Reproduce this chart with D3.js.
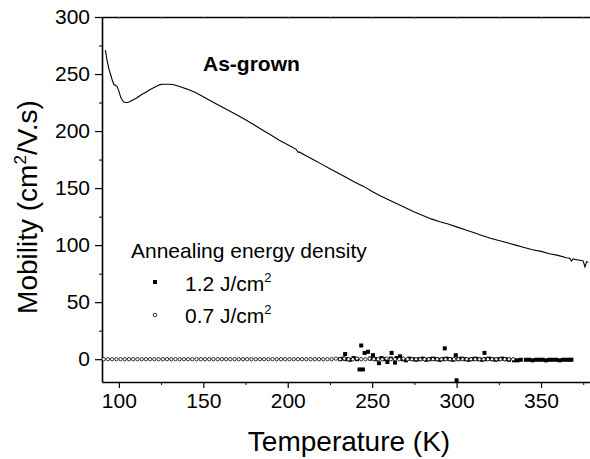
<!DOCTYPE html>
<html>
<head>
<meta charset="utf-8">
<script src="https://cdn.jsdelivr.net/npm/d3@7"></script>
<style>
  body { margin: 0; background: #fff; }
  svg { display: block; font-family: "Liberation Sans", Arial, sans-serif; }
</style>
</head>
<body>
<svg id="chart" width="590" height="459"></svg>
<script>
// ---------- data ----------
const xMajorTicks = [100, 150, 200, 250, 300, 350];
const xMinorTicks = [125, 175, 225, 275, 325, 375];
const yMajorTicks = [0, 50, 100, 150, 200, 250, 300];
const yMinorTicks = [25, 75, 125, 175, 225, 275];

// As-grown curve
const asGrownT = [92, 93, 94, 95, 96, 97, 98, 99, 100, 101, 102, 103, 104, 105, 106, 108, 110, 112, 114, 116,
  118, 120, 122, 124, 126, 128, 130, 132, 134, 136, 138, 140, 145, 150, 155, 160, 165, 170, 175, 180,
  185, 190, 195, 200, 205, 206, 207, 210, 215, 220, 225, 230, 235, 240, 245, 250, 255, 260, 265, 270,
  275, 280, 285, 290, 295, 300, 305, 310, 315, 320, 325, 330, 335, 340, 345, 350, 355, 360, 365, 367,
  368, 369, 370, 372, 374, 375, 376, 377, 378];
const asGrownMu = [271, 262, 255, 250, 245, 241, 240, 239, 235, 230, 227, 225.5, 225, 225, 225.5, 227, 228.5, 230.5, 232.5, 234,
  236, 237.5, 239, 240.5, 241, 241, 241, 240.8, 240, 239, 238, 237, 234, 230, 226, 222, 218, 214, 210, 205.5,
  201, 196.5, 192, 188, 184, 181.5, 181.5, 179, 175, 171, 167, 163, 159, 155, 151.5, 147, 143, 139.5, 136, 132.5,
  129, 126, 123, 120.5, 118.5, 116, 113.5, 111, 108.5, 106, 104, 102, 100, 98, 96, 94.5, 92.5, 91, 89, 88.5,
  86, 88, 87.5, 87, 86.5, 86, 81, 85.5, 85];

// 1.2 J/cm2 (filled squares)
const s12T = [231, 233, 234, 235, 237, 239, 241, 242.5, 243.5, 244.5, 245.5, 247.5, 249, 250.5, 252, 254, 255.5, 257,
  259, 261, 261.5, 263.5, 264.5, 266.5, 268, 270, 272, 274, 276, 278, 280, 282, 284, 286, 288, 290,
  292, 293, 294, 296, 298, 299.5, 300, 301, 303, 305, 307, 309, 311, 313, 315, 316.5, 317, 319,
  321, 323, 325, 327, 329, 331, 334, 336, 338, 341, 343, 345, 347, 349, 351, 353, 355, 357,
  359, 361, 363, 365, 367, 368];
const s12Mu = [0, 0.5, 4.5, 0, -0.5, 1, 0, -9, 12, -9, 5.5, 6.5, 0.5, 3.5, 0, -3.5, 1, 0,
  -2.5, 0.5, 5.5, -3, 1, 2.5, 0, -1, 0.5, 0, -0.5, 0, 0.5, -0.5, 0, 0.5, 0, -0.5,
  0, 9.5, 0.5, 0, -0.5, 3.5, -18.5, 0, 0.5, 0, -0.5, 0, 0.5, 0, -0.5, 5.5, 0, 0.5,
  0, -0.5, 0, 0.5, 0, -0.5, -1, -1, -0.5, -0.5, -0.5, -1, -0.5, -0.5, -0.5, -1, -0.5, -0.5,
  -0.5, -1, -0.5, -0.5, -0.5, -0.5];

// 0.7 J/cm2 (open circles)
const s07T = [91, 93.5, 96, 98.5, 101, 103.5, 106, 108.5, 111, 113.5, 116, 118.5, 121, 123.5, 126, 128.5, 131, 133.5,
  136, 138.5, 141, 143.5, 146, 148.5, 151, 153.5, 156, 158.5, 161, 163.5, 166, 168.5, 171, 173.5,
  176, 178.5, 181, 183.5, 186, 188.5, 191, 193.5, 196, 198.5, 201, 203.5, 206, 208.5, 211, 213.5,
  216, 218.5, 221, 223.5, 226, 228.5, 231, 233.5, 236, 238.5, 241, 243.5, 246, 248.5, 251, 253.5,
  256, 258.5, 261, 263.5, 266, 268.5, 271, 273.5, 276, 278.5, 281, 283.5, 286, 288.5, 291, 293.5,
  296, 298.5, 301, 303.5, 306, 308.5, 311, 313.5, 316, 318.5, 321, 323.5, 326, 328.5, 331, 333.5];
const s07Mu = [0, 0, 0, 0, 0, 0, 0, 0, 0, 0, 0, 0, 0, 0, 0, 0, 0, 0,
  0, 0, 0, 0, 0, 0, 0, 0, 0, 0, 0, 0, 0, 0, 0, 0,
  0, 0, 0, 0, 0, 0, 0, 0, 0, 0, 0, 0, 0, 0, 0, 0,
  0, 0, 0, 0, 0, 0.5, 0, 0.5, 0, 0, 0.5, 0, 0, 0.5, 0, 0,
  0, 0.5, 0, 0, 0, 0.5, 0, 0, 0, 0, 0, 0, 0, 0, 0, 0,
  0, 0, 0, 0, 0, 0, 0, 0, 0, 0, 0, 0, 0, 0, 0, 0];

// ---------- layout ----------
const svg = d3.select("#chart");
const plotLeft = 102, plotRight = 590, plotTop = 17, plotBottom = 382;

const x = d3.scaleLinear().domain([90, 379]).range([plotLeft, plotRight]);
const y = d3.scaleLinear().domain([-20, 300]).range([plotBottom, plotTop]);

// Bottom axis: minor ticks
svg.append("g").attr("transform", `translate(0,${plotBottom})`)
  .call(d3.axisBottom(x).tickValues(xMinorTicks).tickSize(3).tickFormat(""))
  .call(g => g.select(".domain").remove());
// Bottom axis: major ticks
svg.append("g").attr("transform", `translate(0,${plotBottom})`)
  .call(d3.axisBottom(x).tickValues(xMajorTicks).tickSize(6).tickSizeOuter(0).tickPadding(5).tickFormat(d3.format("d")))
  .call(g => g.select(".domain").attr("stroke-width", 1.6))
  .call(g => g.selectAll(".tick line").attr("stroke-width", 1.2))
  .call(g => g.selectAll("text").attr("font-size", 21).attr("fill", "#000"));

// Top axis (no labels, small inward ticks)
svg.append("g").attr("transform", `translate(0,${plotTop})`)
  .call(d3.axisTop(x).tickValues(xMajorTicks.concat(xMinorTicks)).tickSize(-2).tickSizeOuter(0).tickFormat(""))
  .call(g => g.select(".domain").attr("stroke-width", 1.6))
  .call(g => g.selectAll(".tick line").attr("stroke", "#777"));

// Left axis: minor ticks
svg.append("g").attr("transform", `translate(${plotLeft},0)`)
  .call(d3.axisLeft(y).tickValues(yMinorTicks).tickSize(3).tickFormat(""))
  .call(g => g.select(".domain").remove());
// Left axis: major ticks
svg.append("g").attr("transform", `translate(${plotLeft},0)`)
  .call(d3.axisLeft(y).tickValues(yMajorTicks).tickSize(7).tickSizeOuter(0).tickPadding(5).tickFormat(d3.format("d")))
  .call(g => g.select(".domain").attr("stroke-width", 1.6))
  .call(g => g.selectAll(".tick line").attr("stroke-width", 1.2))
  .call(g => g.selectAll("text").attr("font-size", 21).attr("fill", "#000"));

// ---------- marks ----------
const line = d3.line().x((d, i) => x(asGrownT[i])).y(d => y(d));
svg.append("path").datum(asGrownMu)
  .attr("d", line).attr("fill", "none").attr("stroke", "#000").attr("stroke-width", 1.1);

// squares
const sq = 4;
svg.append("g").selectAll("rect").data(s12Mu).join("rect")
  .attr("x", (d, i) => x(s12T[i]) - sq / 2)
  .attr("y", d => y(d) - sq / 2)
  .attr("width", sq).attr("height", sq)
  .attr("fill", "#000");

// circles
svg.append("g").selectAll("circle").data(s07Mu).join("circle")
  .attr("cx", (d, i) => x(s07T[i]))
  .attr("cy", d => y(d))
  .attr("r", 1.7)
  .attr("fill", "#fff").attr("stroke", "#000").attr("stroke-width", 0.8);

// ---------- texts ----------
svg.append("text").attr("x", 203).attr("y", 71)
  .attr("font-size", 21).attr("font-weight", "bold").text("As-grown");

svg.append("text").attr("x", (plotLeft + plotRight) / 2 + 3).attr("y", 451)
  .attr("text-anchor", "middle").attr("font-size", 28).text("Temperature (K)");

const yt = svg.append("text").attr("transform", "translate(37,207) rotate(-90)")
  .attr("text-anchor", "middle").attr("font-size", 28);
yt.append("tspan").text("Mobility (cm");
yt.append("tspan").attr("font-size", 17).attr("dy", -11).text("2");
yt.append("tspan").attr("dy", 11).text("/V.s)");

// legend
svg.append("text").attr("x", 131).attr("y", 258).attr("font-size", 21).text("Annealing energy density");
const legendRows = [
  { label: "1.2 J/cm", yy: 291, type: "square" },
  { label: "0.7 J/cm", yy: 323, type: "circle" }
];
legendRows.forEach(r => {
  if (r.type === "square") {
    svg.append("rect").attr("x", 155 - 2).attr("y", r.yy - 9 - 2).attr("width", 4).attr("height", 4).attr("fill", "#000");
  } else {
    svg.append("circle").attr("cx", 155).attr("cy", r.yy - 8).attr("r", 1.8)
      .attr("fill", "#fff").attr("stroke", "#000").attr("stroke-width", 0.8);
  }
  const t = svg.append("text").attr("x", 185).attr("y", r.yy).attr("font-size", 21);
  t.append("tspan").text(r.label);
  t.append("tspan").attr("font-size", 13).attr("dy", -9).text("2");
});
</script>
</body>
</html>
